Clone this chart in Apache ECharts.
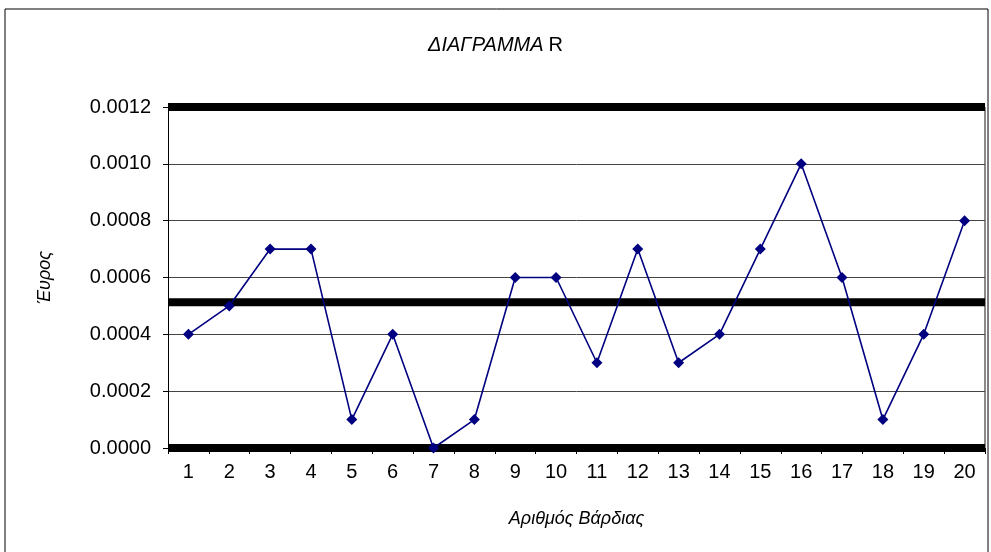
<!DOCTYPE html>
<html>
<head>
<meta charset="utf-8">
<script src="https://cdn.jsdelivr.net/npm/echarts@6/dist/echarts.min.js"></script>
<style>
  html, body { margin: 0; padding: 0; background: #fff; }
  #chart { width: 991px; height: 552px; }
</style>
</head>
<body>
<div id="chart"></div>
<script>
// Shift numbers and the range recorded for each one
const shifts = ['1','2','3','4','5','6','7','8','9','10','11','12','13','14','15','16','17','18','19','20'];
const ranges = [0.0004,0.0005,0.0007,0.0007,0.0001,0.0004,0.0000,0.0001,0.0006,0.0006,0.0003,0.0007,0.0003,0.0004,0.0007,0.0010,0.0006,0.0001,0.0004,0.0008];

// Control limits: upper, centre, lower
const controlLimits = [0.0012, 0.000513, 0.0];

const yTicks = { min: 0, max: 0.0012, interval: 0.0002 };

const font = '"Liberation Sans", Arial, sans-serif';

// Each limit becomes a horizontal line across the whole plot width,
// drawn on a hidden 0..1 value axis.
const limitSeries = controlLimits.map(v => ({
  type: 'line',
  xAxisIndex: 1,
  yAxisIndex: 0,
  data: [[0, v], [1, v]],
  symbol: 'none',
  lineStyle: { color: '#000', width: 8 },
  silent: true,
  clip: false,
  z: 2
}));

const chart = echarts.init(document.getElementById('chart'), null, { renderer: 'canvas' });

chart.setOption({
  animation: false,
  backgroundColor: '#ffffff',
  title: {
    text: '{i|ΔΙΑΓΡΑΜΜΑ} {n|R}',
    left: 'center',
    top: 30,
    textStyle: {
      rich: {
        i: { fontFamily: font, fontSize: 20, fontStyle: 'italic', fontWeight: 'normal', color: '#000' },
        n: { fontFamily: font, fontSize: 20, fontWeight: 'normal', color: '#000' }
      }
    }
  },
  graphic: [
    {
      type: 'rect',
      shape: { x: 5, y: 9, width: 983, height: 560 },
      style: { fill: 'none', stroke: '#000', lineWidth: 1 },
      silent: true, z: -1
    },
    {
      type: 'line',
      shape: { x1: 985, y1: 107, x2: 985, y2: 448 },
      style: { stroke: '#8a8a8a', lineWidth: 2 },
      silent: true
    }
  ],
  grid: { left: 168, right: 6, top: 107, bottom: 104 },
  xAxis: [
    {
      type: 'category',
      data: shifts,
      boundaryGap: true,
      name: 'Αριθμός Βάρδιας',
      nameLocation: 'middle',
      nameGap: 62,
      nameTextStyle: { fontFamily: font, fontSize: 18, fontStyle: 'italic', color: '#000' },
      axisLine: { show: true, lineStyle: { color: '#000', width: 1 } },
      axisTick: { show: true, alignWithLabel: false, length: 6, inside: false, lineStyle: { color: '#000' } },
      axisLabel: { fontFamily: font, fontSize: 20, color: '#000', margin: 14 },
      splitLine: { show: false }
    },
    {
      type: 'value',
      min: 0,
      max: 1,
      show: false
    }
  ],
  yAxis: {
    type: 'value',
    min: yTicks.min,
    max: yTicks.max,
    interval: yTicks.interval,
    name: 'Έυρος',
    nameLocation: 'middle',
    nameGap: 114,
    nameRotate: 90,
    nameTextStyle: { fontFamily: font, fontSize: 18, fontStyle: 'italic', color: '#000' },
    axisLine: { show: true, lineStyle: { color: '#000', width: 1 } },
    axisTick: { show: true, length: 5, lineStyle: { color: '#000' } },
    axisLabel: {
      fontFamily: font, fontSize: 20, color: '#000', margin: 17,
      formatter: v => v.toFixed(4)
    },
    splitLine: { show: true, lineStyle: { color: '#444', width: 1 } }
  },
  series: [
    ...limitSeries,
    {
      type: 'line',
      xAxisIndex: 0,
      yAxisIndex: 0,
      data: ranges,
      symbol: 'diamond',
      symbolSize: 11,
      lineStyle: { color: '#000080', width: 1.6 },
      itemStyle: { color: '#000080' },
      clip: false,
      z: 3
    }
  ]
});
</script>
</body>
</html>
